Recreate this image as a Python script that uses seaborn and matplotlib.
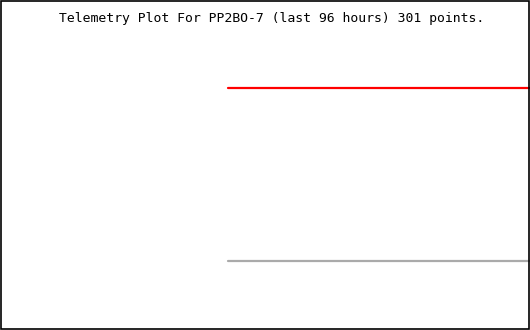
import matplotlib
matplotlib.use("Agg")
import matplotlib.pyplot as plt
import seaborn as sns
import pandas as pd
from matplotlib.patches import Rectangle

# Data (hours relative to now, value in plot units)
hours = [-54.7, 0.0]
red_series = [242.0, 242.0]
gray_series = [69.0, 69.0]
title_text = "Telemetry Plot For PP2BO-7 (last 96 hours) 301 points."

df = pd.DataFrame({
    "hour": hours + hours,
    "value": red_series + gray_series,
    "series": ["red"] * len(hours) + ["gray"] * len(hours),
})

sns.set_style("white")
fig = plt.figure(figsize=(5.3, 3.3), dpi=100)
ax = fig.add_axes([0, 0, 1, 1])
sns.lineplot(data=df, x="hour", y="value", hue="series",
             palette={"red": "#ff0000", "gray": "#aaaaaa"},
             linewidth=1.6, legend=False, ax=ax)
ax.set_xlim(-96, 0)
ax.set_ylim(0, 330)
ax.set_xticks([]); ax.set_yticks([])
ax.set_xlabel(""); ax.set_ylabel("")
for s in ax.spines.values():
    s.set_visible(False)

fig.text(271.5 / 530, 1 - 18.5 / 330, title_text, family="DejaVu Sans Mono",
         fontsize=9.45, ha="center", va="center", color="black")

fig.patches.append(Rectangle((0.5 / 530, 0.8 / 330), 528.6 / 530, 328.6 / 330,
                             transform=fig.transFigure, fill=False,
                             edgecolor="black", linewidth=1.2))

fig.savefig("out.png", dpi=100, facecolor="white")
